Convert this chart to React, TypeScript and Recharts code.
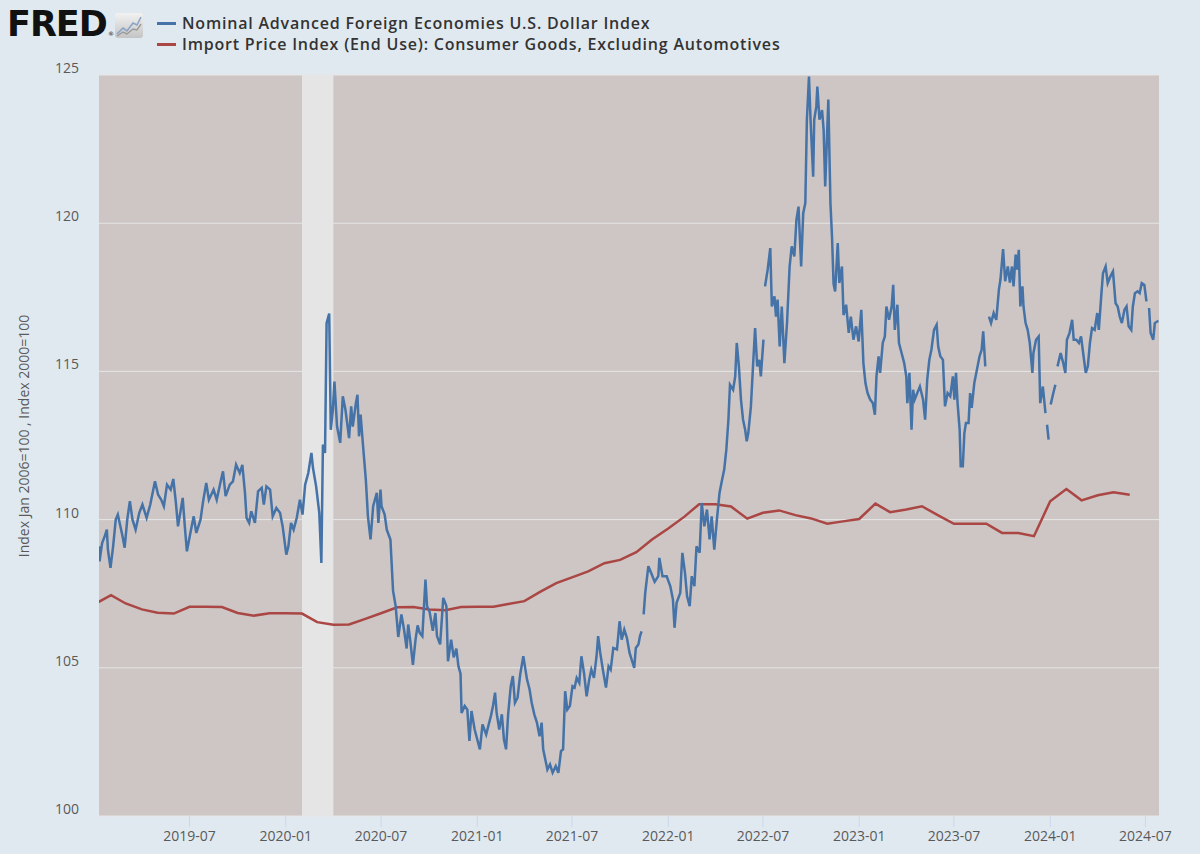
import React from 'react';
import { LineChart, Line, XAxis, YAxis, CartesianGrid, ReferenceArea } from 'recharts';

type Pt = [string, number | null];

const seriesNames = [
  'Nominal Advanced Foreign Economies U.S. Dollar Index',
  'Import Price Index (End Use): Consumer Goods, Excluding Automotives',
];
const yAxisTitle = 'Index Jan 2006=100 , Index 2000=100';
const yTicks = [100, 105, 110, 115, 120, 125];
const xTickDates = ['2019-07-01', '2020-01-01', '2020-07-01', '2021-01-01', '2021-07-01', '2022-01-01', '2022-07-01', '2023-01-01', '2023-07-01', '2024-01-01', '2024-07-01'];
const xDomainDates = ['2019-01-09', '2024-07-27'];
const recession = ['2020-02-01', '2020-04-01'];

const usd2019: Pt[] = [
  ['2019-01-09',109.10],['2019-01-10',108.59],['2019-01-15',109.21],['2019-01-20',109.44],['2019-01-24',109.66],['2019-01-26',108.99],['2019-01-31',108.37],
  ['2019-02-05',109.10],['2019-02-10',110.00],['2019-02-14',110.17],['2019-02-23',109.44],['2019-02-27',109.05],
  ['2019-03-04',110.00],['2019-03-09',110.62],['2019-03-14',110.00],['2019-03-20',109.66],['2019-03-27',110.23],
  ['2019-04-02',110.51],['2019-04-10',110.06],['2019-04-17',110.51],['2019-04-26',111.29],
  ['2019-05-02',110.84],['2019-05-08',110.67],['2019-05-13',110.45],['2019-05-19',111.18],['2019-05-26',111.01],['2019-05-31',111.37],
  ['2019-06-05',110.56],['2019-06-09',109.77],['2019-06-18',110.73],['2019-06-22',109.77],['2019-06-26',108.93],
  ['2019-07-02',109.49],['2019-07-09',110.11],['2019-07-14',109.55],['2019-07-22',110.00],['2019-07-27',110.62],
  ['2019-08-02',111.24],['2019-08-07',110.67],['2019-08-16',111.01],['2019-08-22',110.67],['2019-08-29',111.24],
  ['2019-09-03',111.63],['2019-09-08',110.79],['2019-09-16',111.18],['2019-09-22',111.29],['2019-09-28',111.85],
  ['2019-10-05',111.57],['2019-10-10',111.85],['2019-10-15',110.90],['2019-10-18',110.06],['2019-10-23',109.89],['2019-10-27',110.28],
  ['2019-11-03',109.89],['2019-11-09',110.95],['2019-11-16',111.07],['2019-11-20',110.51],['2019-11-25',111.12],
  ['2019-12-02',111.01],['2019-12-07',110.11],['2019-12-14',110.39],['2019-12-21',110.23],['2019-12-26',109.77],
];

const usd2020: Pt[] = [
  ['2020-01-02',108.82],['2020-01-06',109.10],['2020-01-11',109.89],['2020-01-16',109.66],['2020-01-22',110.06],['2020-01-28',110.67],
  ['2020-02-02',110.17],['2020-02-07',111.18],['2020-02-13',111.57],['2020-02-19',112.25],['2020-02-22',111.74],['2020-02-28',111.12],
  ['2020-03-05',110.23],['2020-03-09',108.54],['2020-03-12',112.53],['2020-03-16',112.25],['2020-03-19',116.63],['2020-03-24',116.95],['2020-03-27',113.03],['2020-03-31',113.71],
  ['2020-04-03',114.66],['2020-04-08',113.14],['2020-04-14',112.59],['2020-04-19',114.16],['2020-04-24',113.71],
  ['2020-05-01',112.75],['2020-05-05',113.82],['2020-05-08',113.14],['2020-05-14',113.93],['2020-05-17',114.21],['2020-05-20',112.81],['2020-05-23',113.54],['2020-05-27',112.64],
  ['2020-06-02',111.35],['2020-06-06',110.11],['2020-06-11',109.33],['2020-06-16',110.45],['2020-06-23',110.90],['2020-06-26',109.89],['2020-06-30',111.01],
  ['2020-07-02',110.45],['2020-07-08',110.17],['2020-07-12',109.66],['2020-07-19',109.33],['2020-07-24',107.60],['2020-07-29',107.08],
  ['2020-08-03',106.04],['2020-08-09',106.80],['2020-08-14',106.29],['2020-08-19',105.65],['2020-08-22',106.46],['2020-08-26',105.90],['2020-08-31',105.10],
  ['2020-09-05',105.95],['2020-09-09',106.43],['2020-09-13',106.18],['2020-09-18',106.07],['2020-09-24',107.98],['2020-09-27',107.08],
  ['2020-10-02',106.88],['2020-10-08',106.25],['2020-10-13',106.85],['2020-10-16',106.07],['2020-10-22',105.79],['2020-10-28',107.36],
  ['2020-11-03',107.08],['2020-11-06',105.22],['2020-11-12',105.95],['2020-11-17',105.35],['2020-11-22',105.65],['2020-11-26',105.05],['2020-11-30',104.80],
  ['2020-12-02',103.48],['2020-12-08',103.71],['2020-12-13',103.59],['2020-12-17',102.53],['2020-12-21',103.54],['2020-12-27',102.92],
];

const usd2021: Pt[] = [
  ['2021-01-01',102.58],['2021-01-06',102.25],['2021-01-11',103.09],['2021-01-18',102.75],['2021-01-22',103.03],['2021-01-27',103.37],['2021-01-31',103.71],
  ['2021-02-04',104.16],['2021-02-07',103.48],['2021-02-12',102.92],['2021-02-17',103.43],['2021-02-21',102.58],['2021-02-25',102.25],
  ['2021-03-01',103.43],['2021-03-06',104.38],['2021-03-10',104.72],['2021-03-14',103.82],['2021-03-19',103.99],['2021-03-24',104.77],['2021-03-30',105.39],
  ['2021-04-06',104.61],['2021-04-11',104.27],['2021-04-15',103.82],['2021-04-20',103.43],['2021-04-25',103.15],['2021-04-30',102.69],
  ['2021-05-04',103.15],['2021-05-07',102.25],['2021-05-11',101.91],['2021-05-15',101.57],['2021-05-20',101.74],['2021-05-25',101.46],['2021-05-31',101.68],
  ['2021-06-05',101.46],['2021-06-10',102.19],['2021-06-14',102.25],['2021-06-18',104.21],['2021-06-22',103.59],['2021-06-27',103.71],
  ['2021-07-02',104.38],['2021-07-06',104.33],['2021-07-10',104.66],['2021-07-15',104.49],['2021-07-19',105.39],['2021-07-24',104.83],['2021-07-29',104.04],
  ['2021-08-03',104.61],['2021-08-07',104.94],['2021-08-12',104.66],['2021-08-17',105.39],['2021-08-20',106.07],['2021-08-24',105.51],['2021-08-29',104.94],
  ['2021-09-04',104.33],['2021-09-09',105.05],['2021-09-13',104.94],['2021-09-18',105.67],['2021-09-25',105.62],['2021-09-30',106.57],
  ['2021-10-04',105.95],['2021-10-09',106.29],['2021-10-14',106.01],['2021-10-19',105.51],['2021-10-23',105.28],['2021-10-28',105.00],['2021-10-31',105.67],
  ['2021-11-05',105.79],['2021-11-08',106.07],['2021-11-11',106.23],['2021-11-13',null],['2021-11-15',106.80],['2021-11-18',107.53],['2021-11-24',108.43],['2021-11-30',108.17],
  ['2021-12-06',107.90],['2021-12-13',108.09],['2021-12-15',108.71],['2021-12-21',108.09],['2021-12-29',108.09],
];

const usd2022: Pt[] = [
  ['2022-01-05',107.75],['2022-01-10',107.30],['2022-01-13',106.35],['2022-01-17',107.19],['2022-01-24',107.53],['2022-01-28',108.88],
  ['2022-02-02',108.20],['2022-02-06',107.41],['2022-02-11',107.08],['2022-02-15',108.09],['2022-02-20',107.75],['2022-02-24',109.10],
  ['2022-03-02',108.88],['2022-03-06',110.56],['2022-03-11',109.77],['2022-03-16',110.34],['2022-03-21',109.33],['2022-03-25',110.11],['2022-03-30',108.99],
  ['2022-04-04',110.00],['2022-04-09',110.90],['2022-04-14',111.35],['2022-04-18',111.69],['2022-04-22',112.36],['2022-04-26',113.37],['2022-04-29',114.55],
  ['2022-05-05',114.38],['2022-05-09',114.83],['2022-05-12',115.96],['2022-05-16',115.17],['2022-05-20',114.05],['2022-05-24',113.37],['2022-05-28',113.03],['2022-05-31',112.64],
  ['2022-06-03',112.92],['2022-06-08',113.82],['2022-06-12',115.17],['2022-06-16',116.46],['2022-06-20',115.17],['2022-06-24',115.39],['2022-06-27',114.83],
  ['2022-07-02',116.07],['2022-07-04',null],['2022-07-05',117.87],['2022-07-10',118.43],['2022-07-15',119.16],['2022-07-18',117.19],['2022-07-23',117.53],['2022-07-26',116.85],['2022-07-29',117.42],
  ['2022-08-02',115.84],['2022-08-06',117.19],['2022-08-11',115.28],['2022-08-16',116.63],['2022-08-21',118.54],['2022-08-25',119.22],['2022-08-30',118.88],
  ['2022-09-03',120.11],['2022-09-07',120.56],['2022-09-12',118.54],['2022-09-16',120.34],['2022-09-20',120.68],['2022-09-23',123.49],['2022-09-27',124.95],['2022-09-30',123.49],
  ['2022-10-05',121.57],['2022-10-07',123.49],['2022-10-11',123.94],['2022-10-13',124.61],['2022-10-17',123.49],['2022-10-22',123.82],['2022-10-25',123.15],['2022-10-28',121.24],['2022-10-31',122.70],
  ['2022-11-03',124.17],['2022-11-07',120.68],['2022-11-10',119.55],['2022-11-13',117.95],['2022-11-16',117.70],['2022-11-21',119.33],['2022-11-24',117.98],['2022-11-29',118.54],
  ['2022-12-02',116.90],['2022-12-07',117.25],['2022-12-12',116.30],['2022-12-16',116.85],['2022-12-21',116.07],['2022-12-26',116.52],['2022-12-31',116.01],
];

const usd2023: Pt[] = [
  ['2023-01-05',117.08],['2023-01-09',115.28],['2023-01-13',114.60],['2023-01-17',114.27],['2023-01-22',114.05],['2023-01-27',113.93],['2023-01-31',113.54],
  ['2023-02-03',114.83],['2023-02-07',115.51],['2023-02-10',114.95],['2023-02-15',115.96],['2023-02-19',116.18],['2023-02-22',117.19],['2023-02-27',116.74],
  ['2023-03-04',117.19],['2023-03-07',117.92],['2023-03-10',116.40],['2023-03-15',117.25],['2023-03-18',115.96],['2023-03-23',115.62],['2023-03-28',115.28],
  ['2023-04-01',114.83],['2023-04-03',113.93],['2023-04-07',114.95],['2023-04-11',113.03],['2023-04-14',114.38],['2023-04-17',114.05],['2023-04-22',114.27],['2023-04-27',114.49],
  ['2023-05-03',114.05],['2023-05-07',113.37],['2023-05-11',114.72],['2023-05-15',115.39],['2023-05-19',115.73],['2023-05-24',116.40],['2023-05-29',116.57],
  ['2023-06-01',115.84],['2023-06-05',115.51],['2023-06-10',115.39],['2023-06-14',113.82],['2023-06-19',114.27],['2023-06-24',114.16],['2023-06-29',114.83],
  ['2023-07-02',114.05],['2023-07-05',114.95],['2023-07-08',113.93],['2023-07-12',113.03],['2023-07-14',111.80],['2023-07-18',111.80],['2023-07-21',112.92],['2023-07-24',113.26],['2023-07-29',113.26],
  ['2023-08-01',114.27],['2023-08-04',113.77],['2023-08-09',114.61],['2023-08-14',115.06],['2023-08-19',115.51],['2023-08-23',115.73],['2023-08-26',116.35],['2023-08-30',115.17],['2023-09-01',null],
  ['2023-09-06',116.85],['2023-09-10',116.63],['2023-09-15',116.97],['2023-09-20',116.74],['2023-09-25',117.76],['2023-09-28',118.10],
  ['2023-10-03',119.13],['2023-10-07',118.04],['2023-10-12',118.54],['2023-10-16',118.00],['2023-10-20',118.54],['2023-10-23',117.87],['2023-10-27',118.94],['2023-10-30',118.43],
  ['2023-11-02',119.10],['2023-11-05',117.19],['2023-11-09',117.87],['2023-11-11',117.19],['2023-11-15',116.63],['2023-11-19',116.40],['2023-11-23',115.96],['2023-11-28',114.95],['2023-11-30',115.62],
  ['2023-12-05',116.07],['2023-12-10',116.18],['2023-12-13',113.93],['2023-12-18',114.49],['2023-12-23',113.59],['2023-12-25',null],['2023-12-26',113.20],['2023-12-29',112.70],['2023-12-31',null],
];

const usd2024: Pt[] = [
  ['2024-01-02',113.88],['2024-01-07',114.27],['2024-01-11',114.55],['2024-01-13',null],['2024-01-15',115.17],['2024-01-21',115.62],['2024-01-26',115.28],['2024-01-30',114.95],
  ['2024-02-02',116.07],['2024-02-07',116.30],['2024-02-12',116.74],['2024-02-15',116.07],['2024-02-20',116.07],['2024-02-25',115.96],['2024-02-29',116.18],
  ['2024-03-04',115.62],['2024-03-09',114.95],['2024-03-13',115.17],['2024-03-17',115.96],['2024-03-21',116.46],['2024-03-26',116.40],['2024-03-31',116.97],
  ['2024-04-03',116.40],['2024-04-08',117.64],['2024-04-11',118.32],['2024-04-16',118.54],['2024-04-20',117.98],['2024-04-25',118.20],['2024-04-30',118.37],
  ['2024-05-05',117.30],['2024-05-09',117.19],['2024-05-13',116.85],['2024-05-17',116.63],['2024-05-22',117.08],['2024-05-26',117.19],['2024-05-30',116.52],
  ['2024-06-04',116.40],['2024-06-07',117.19],['2024-06-11',117.64],['2024-06-16',117.70],['2024-06-20',117.64],['2024-06-24',117.98],['2024-06-29',117.92],
  ['2024-07-03',117.36],['2024-07-04',null],['2024-07-08',117.14],['2024-07-11',116.30],['2024-07-16',116.07],['2024-07-19',116.63],['2024-07-24',116.69],['2024-07-26',116.70],
];

const importMonths = [
  '2019-01','2019-02','2019-03','2019-04','2019-05','2019-06','2019-07','2019-08','2019-09','2019-10','2019-11','2019-12',
  '2020-01','2020-02','2020-03','2020-04','2020-05','2020-06','2020-07','2020-08','2020-09','2020-10','2020-11','2020-12',
  '2021-01','2021-02','2021-03','2021-04','2021-05','2021-06','2021-07','2021-08','2021-09','2021-10','2021-11','2021-12',
  '2022-01','2022-02','2022-03','2022-04','2022-05','2022-06','2022-07','2022-08','2022-09','2022-10','2022-11','2022-12',
  '2023-01','2023-02','2023-03','2023-04','2023-05','2023-06','2023-07','2023-08','2023-09','2023-10','2023-11','2023-12',
  '2024-01','2024-02','2024-03','2024-04','2024-05','2024-06',
];
const importValues = [
  107.15,107.45,107.17,106.97,106.86,106.83,107.06,107.06,107.05,106.85,106.76,106.84,
  106.84,106.83,106.54,106.45,106.46,106.65,106.84,107.04,107.05,106.97,106.94,107.05,
  107.06,107.06,107.15,107.25,107.56,107.86,108.05,108.25,108.53,108.64,108.90,109.33,
  109.70,110.10,110.52,110.52,110.44,110.03,110.23,110.31,110.15,110.04,109.86,109.94,
  110.02,110.54,110.25,110.34,110.45,110.14,109.86,109.86,109.86,109.55,109.55,109.44,
  110.62,111.03,110.65,110.82,110.92,110.84,
];

const toT = (s: string) => Date.parse(s.length === 7 ? s + '-01' : s);

const usdData = [...usd2019, ...usd2020, ...usd2021, ...usd2022, ...usd2023, ...usd2024].map(([d, v]) => ({ t: toT(d), v }));
const importData = importMonths.map((m, i) => ({ t: toT(m), v: importValues[i] }));

const fmtTick = (t: number) => {
  const d = new Date(t);
  const m = d.getUTCMonth() + 1;
  return `${d.getUTCFullYear()}-${m < 10 ? '0' + m : m}`;
};

const BLUE = '#4572a7';
const RED = '#aa4643';
const FONT = '"Open Sans", "Noto Sans", sans-serif';

const YTick = (props: any) => {
  const { x, y, payload } = props;
  return (
    <text x={x} y={y} dy={-2} textAnchor="end" fill="#595959" fontSize={14} fontFamily={FONT}>
      {payload.value}
    </text>
  );
};

export default function App() {
  return (
    <div style={{ position: 'absolute', left: 0, top: 0, width: 1200, height: 854, background: '#e1e9f0', fontFamily: FONT, overflow: 'hidden' }}>
      <div style={{ position: 'absolute', left: 7, top: 4, fontFamily: '"DejaVu Sans", sans-serif', fontWeight: 700, fontSize: 35, letterSpacing: -1, color: '#111', lineHeight: '40px' }}>
        <span style={{ letterSpacing: -1 }}>FRE</span><span style={{ letterSpacing: 0 }}>D</span>
      </div>
      <div style={{ position: 'absolute', left: 108, top: 30, fontFamily: '"DejaVu Sans", sans-serif', fontSize: 6, lineHeight: '7px', color: '#111' }}>®</div>
      <svg style={{ position: 'absolute', left: 114, top: 12 }} width={30} height={27}>
        <defs>
          <linearGradient id="ig" x1="0" y1="0" x2="0" y2="1">
            <stop offset="0" stopColor="#f2f2f2" />
            <stop offset="1" stopColor="#c4c4c4" />
          </linearGradient>
        </defs>
        <rect x={1} y={1} width={28} height={25} rx={3} fill="url(#ig)" />
        <polyline points="3,22 9,16 13,19 19,11 23,13 27,5" fill="none" stroke="#8aa4c8" strokeWidth={1.6} />
        <polyline points="3,24 9,20 13,22 19,17 23,18 27,12" fill="none" stroke="#9a9a9a" strokeWidth={1.4} />
      </svg>
      <div style={{ position: 'absolute', left: 157, top: 13, fontSize: 16, fontWeight: 600, letterSpacing: 0.8, color: '#333333', lineHeight: '21px' }}>
        <div style={{ display: 'flex', alignItems: 'center' }}>
          <span style={{ display: 'inline-block', width: 19, height: 3, background: BLUE, marginRight: 6 }} />
          <span>{seriesNames[0]}</span>
        </div>
        <div style={{ display: 'flex', alignItems: 'center' }}>
          <span style={{ display: 'inline-block', width: 19, height: 3, background: RED, marginRight: 6 }} />
          <span>{seriesNames[1]}</span>
        </div>
      </div>
      <div style={{ position: 'absolute', left: 23, top: 436, width: 0, height: 0 }}>
        <div style={{ position: 'absolute', transform: 'translate(-50%, -50%) rotate(-90deg)', whiteSpace: 'nowrap', fontSize: 14, color: '#595959' }}>
          {yAxisTitle}
        </div>
      </div>
      <div style={{ position: 'absolute', left: 0, top: 0 }}>
        <LineChart width={1200} height={854} margin={{ top: 75, right: 41, bottom: 8, left: 0 }}>
          <CartesianGrid horizontal vertical={false} stroke="#e6e6e6" strokeWidth={1} fill="#cdc6c4" fillOpacity={1} />
          <ReferenceArea x1={toT(recession[0])} x2={toT(recession[1])} fill="#e5e5e5" fillOpacity={1} stroke="none" ifOverflow="hidden" />
          <XAxis
            type="number"
            dataKey="t"
            scale="linear"
            domain={[toT(xDomainDates[0]), toT(xDomainDates[1])]}
            ticks={xTickDates.map(toT)}
            tickFormatter={fmtTick}
            allowDataOverflow
            height={30}
            tickSize={11}
            tickMargin={4}
            tickLine={{ stroke: '#ccd6eb' }}
            axisLine={false}
            tick={{ fill: '#595959', fontSize: 14, fontFamily: FONT }}
          />
          <YAxis
            type="number"
            domain={[100, 125]}
            ticks={yTicks}
            width={99}
            tickSize={0}
            tickMargin={20}
            tickLine={false}
            axisLine={false}
            tick={<YTick />}
            allowDataOverflow
          />
          <Line data={importData} dataKey="v" type="linear" stroke={RED} strokeWidth={2.5} dot={false} isAnimationActive={false} />
          <Line data={usdData} dataKey="v" type="linear" stroke={BLUE} strokeWidth={2.5} dot={false} isAnimationActive={false} connectNulls={false} />
        </LineChart>
      </div>
    </div>
  );
}
